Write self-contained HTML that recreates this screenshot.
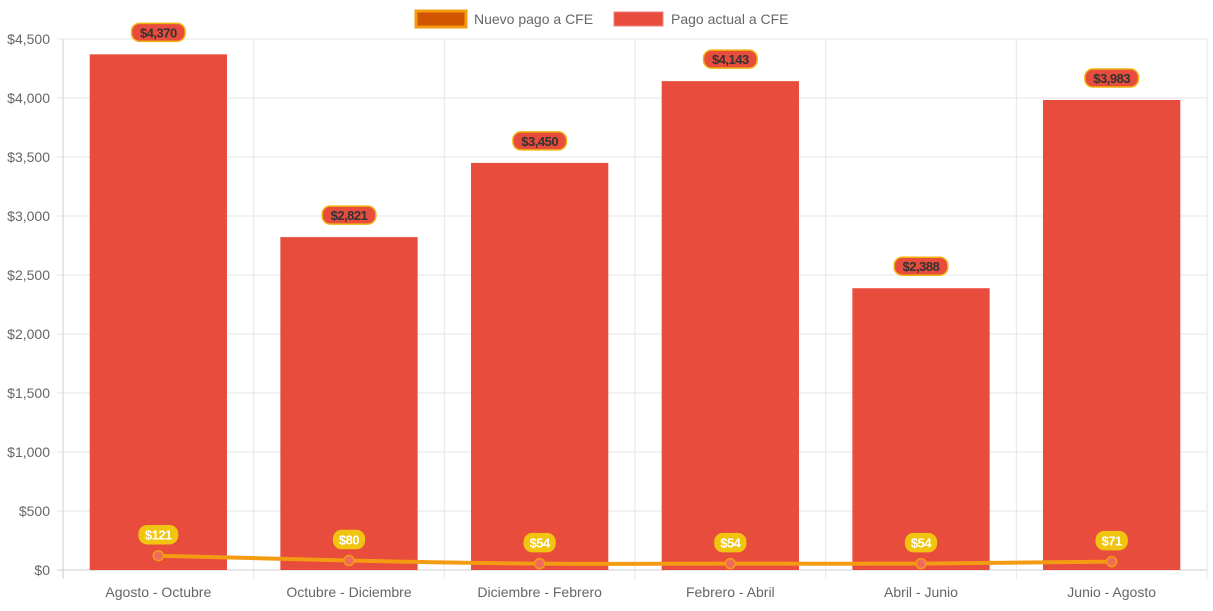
<!DOCTYPE html>
<html><head><meta charset="utf-8"><style>
body{margin:0;background:#fff;font-family:"Liberation Sans",sans-serif;}
svg text{font-family:"Liberation Sans",sans-serif;}
</style></head><body>
<svg id="c" width="1213" height="606"></svg>
<script>
const categories=["Agosto - Octubre","Octubre - Diciembre","Diciembre - Febrero","Febrero - Abril","Abril - Junio","Junio - Agosto"];
const actual=[4370,2821,3450,4143,2388,3983];
const nuevo=[121,80,54,54,54,71];
const yTicks=[0,500,1000,1500,2000,2500,3000,3500,4000,4500];
const NS="http://www.w3.org/2000/svg";
const svg=document.getElementById('c');
const L=63,R=1207,T=39,B=570,yMax=4500;
const cw=(R-L)/categories.length;
const y=v=>B-(v/yMax)*(B-T);
const xc=i=>L+cw*(i+0.5);
function mk(t,a,p){const e=document.createElementNS(NS,t);for(const k in a)e.setAttribute(k,a[k]);(p||svg).appendChild(e);return e;}
const fmt=v=>'$'+v.toLocaleString('en-US');
// grid
yTicks.forEach(v=>{
 const g=mk('line',{x1:L-6,x2:R,y1:y(v),y2:y(v),stroke:v===0?'#ccc':'#e6e6e6','stroke-width':1});
 
 
 const t=mk('text',{x:L-13,y:y(v)+5,'text-anchor':'end','font-size':14,fill:'#666'});
 t.textContent=fmt(v);
 
 
});
for(let i=0;i<=categories.length;i++){
 const g=mk('line',{x1:L+cw*i,x2:L+cw*i,y1:T,y2:B+9,stroke:'#e6e6e6','stroke-width':1});
 
 
}
mk('line',{x1:L,x2:L,y1:T,y2:B+9,stroke:'#ccc'});
categories.forEach((c,i)=>{
 const t=mk('text',{x:xc(i),y:597,'text-anchor':'middle','font-size':14,fill:'#666'});
 t.textContent=c;
 
 
});
// bars
const bw=cw*0.72;
actual.forEach((v,i)=>{
 const r=mk('rect',{x:xc(i)-bw/2,y:y(v),width:bw,height:B-y(v),fill:'#e74c3c'});
 
 
});
// line
const pts=nuevo.map((v,i)=>[xc(i),y(v)]);
let d='M'+pts[0][0]+','+pts[0][1];
for(let i=0;i<pts.length-1;i++){
 const p0=pts[i-1]||pts[i],p1=pts[i],p2=pts[i+1],p3=pts[i+2]||p2,k=0.2;
 d+=` C${p1[0]+(p2[0]-p0[0])*k},${p1[1]+(p2[1]-p0[1])*k} ${p2[0]-(p3[0]-p1[0])*k},${p2[1]-(p3[1]-p1[1])*k} ${p2[0]},${p2[1]}`;
}
const ln=mk('path',{d:d,fill:'none',stroke:'#f39c12','stroke-width':4});


pts.forEach(p=>{
 const c=mk('circle',{cx:p[0],cy:p[1],r:5,fill:'#f06a5e',stroke:'#f39c12','stroke-width':1.5});
 
 
});
function label(cx,cy,txt,fill,stroke,color,name){
 const w=txt.length*7.6+8;
 const g=mk('g',{});
 
 
 mk('rect',{x:cx-w/2,y:cy-9,width:w,height:18,rx:8,fill:fill,stroke:stroke,'stroke-width':1.5},g);
 const t=mk('text',{x:cx,y:cy+5,'text-anchor':'middle','font-size':13,'font-weight':'bold',fill:color,'letter-spacing':'-0.5'},g);
 t.textContent=txt;
}
actual.forEach((v,i)=>label(xc(i),y(v)-22,fmt(v),'#e74c3c','#f1b40f','#333','bar-value-label'));
nuevo.forEach((v,i)=>label(xc(i),y(v)-21,fmt(v),'#f1c40f','#f1c40f','#fff','line-value-label'));
// legend
const lg=mk('g',{});


const l1=mk('g',{},lg);


mk('rect',{x:416,y:11,width:50,height:16,fill:'#d35400',stroke:'#f39c12','stroke-width':3},l1);
const t1=mk('text',{x:474,y:24,'font-size':14,fill:'#666'},l1);t1.textContent='Nuevo pago a CFE';
const l2=mk('g',{},lg);


mk('rect',{x:614,y:12,width:49,height:14,fill:'#e74c3c',stroke:'#f08080','stroke-width':1},l2);
const t2=mk('text',{x:671,y:24,'font-size':14,fill:'#666'},l2);t2.textContent='Pago actual a CFE';
</script>
</body></html>
